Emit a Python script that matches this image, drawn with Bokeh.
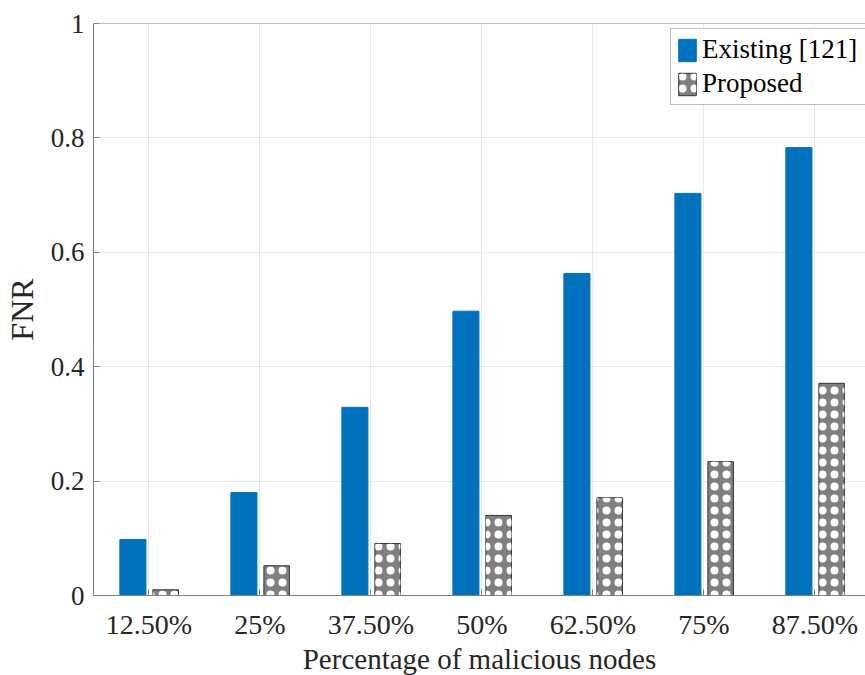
from bokeh.plotting import figure
from bokeh.models import FixedTicker, ColumnDataSource, Span, Legend, LegendItem, Range1d
from bokeh.embed import file_html
from bokeh.resources import INLINE
from bokeh.transform import dodge

categories = ["12.50%", "25%", "37.50%", "50%", "62.50%", "75%", "87.50%"]
existing = [0.098, 0.180, 0.329, 0.497, 0.563, 0.703, 0.783]
proposed = [0.010, 0.052, 0.091, 0.140, 0.171, 0.234, 0.371]
yticks = [0, 0.2, 0.4, 0.6, 0.8, 1]

xs = list(range(1, len(categories) + 1))
src = ColumnDataSource(dict(x=xs, existing=existing, proposed=proposed))

FONT = "Liberation Serif"
TXT = "#262626"

p = figure(frame_width=772, frame_height=572, output_backend="svg", toolbar_location=None,
           x_range=Range1d(0.5, 7.455), y_range=Range1d(0, 1),
           min_border_left=85, min_border_right=0, min_border_top=23, min_border_bottom=60)
p.outline_line_color = None
p.background_fill_color = "white"

b1 = p.vbar(x=dodge("x", -0.145, range=p.x_range), top="existing", width=0.235, source=src,
            fill_color="#0072BD", line_color="#0072BD")
b2 = p.vbar(x=dodge("x", 0.15, range=p.x_range), top="proposed", width=0.23, source=src,
            fill_color="#808080", line_color="#333333", line_width=1,
            hatch_pattern="ring", hatch_color="white", hatch_scale=12, hatch_weight=2)
b2d = p.vbar(x=dodge("x", 0.15, range=p.x_range), top="proposed", width=0.23, source=src,
             fill_alpha=0, line_alpha=0,
             hatch_pattern="dot", hatch_color="white", hatch_scale=12)

p.add_layout(Span(location=1, dimension="width", line_color="#808080", line_width=1))

p.xaxis.ticker = FixedTicker(ticks=xs)
p.xaxis.major_label_overrides = {x: c for x, c in zip(xs, categories)}
p.yaxis.ticker = FixedTicker(ticks=yticks)
p.yaxis.major_label_overrides = {0: "0", 1: "1"}

for ax in (p.xaxis[0], p.yaxis[0]):
    ax.major_label_text_font = FONT
    ax.major_label_text_font_size = "27px"
    ax.major_label_text_color = TXT
    ax.axis_label_text_font = FONT
    ax.axis_label_text_font_style = "normal"
    ax.axis_label_text_color = TXT
    ax.axis_line_color = "#808080"
    ax.major_tick_line_color = "#808080"
    ax.major_tick_in = 6
    ax.major_tick_out = 0
    ax.minor_tick_line_color = None

p.xaxis.major_label_text_font_size = "28px"
p.xaxis.axis_label = "Percentage of malicious nodes"
p.yaxis.axis_label = "FNR"
p.xaxis.axis_label_text_font_size = "29px"
p.yaxis.axis_label_text_font_size = "32px"
p.xaxis.major_label_standoff = 13
p.xaxis.axis_label_standoff = 0
p.yaxis.major_label_standoff = 9
p.yaxis.axis_label_standoff = 8

p.xgrid.ticker = FixedTicker(ticks=xs)
p.xgrid.grid_line_color = "#e8e8e8"
p.ygrid.grid_line_color = "#e8e8e8"

legend = Legend(items=[LegendItem(label="Existing [121]", renderers=[b1]),
                       LegendItem(label="Proposed", renderers=[b2, b2d])],
                location=(577, 490))
legend.label_text_font = FONT
legend.label_text_font_size = "27px"
legend.label_text_color = "black"
legend.glyph_width = 22
legend.glyph_height = 28
legend.label_standoff = 4
legend.spacing = 3
legend.padding = 5
legend.margin = 0
legend.border_line_color = "#808080"
legend.label_height = 30
legend.label_width = 175
p.add_layout(legend, "center")

open("out.html", "w").write(file_html(p, INLINE))
